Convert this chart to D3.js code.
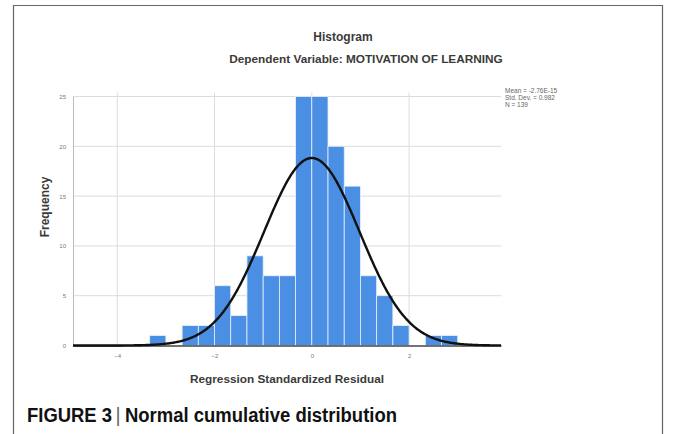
<!DOCTYPE html>
<html>
<head>
<meta charset="utf-8">
<script src="https://cdn.jsdelivr.net/npm/d3@7"></script>
<style>
  body { margin: 0; background: #fff; }
  svg { display: block; font-family: "Liberation Sans", Arial, sans-serif; }
</style>
</head>
<body>
<div id="chart"></div>
<script>
// Bins of width 1/3 on the standardized residual, counts
const binStarts = [-10, -9, -8, -7, -6, -5, -4, -3, -2, -1, 0, 1, 2, 3, 4, 5, 6, 7, 8];
const counts    = [1, 0, 2, 2, 6, 3, 9, 7, 7, 25, 25, 20, 16, 7, 5, 2, 0, 1, 1];
const binWidth = 1 / 3;
const xTicks = [-4, -2, 0, 2];
const yTicks = [0, 5, 10, 15, 20, 25];
const stats = { mean: 0, sd: 0.982, n: 139 };
const statLines = ["Mean = -2.76E-15", "Std. Dev. = 0.982", "N = 139"];

const W = 673, H = 434;
const svg = d3.select("#chart").append("svg")
    .attr("width", W).attr("height", H);

// outer frame (open at the bottom)
svg.append("path")
    .attr("d", `M13.5,${H} V5.5 H662.5 V${H}`)
    .attr("fill", "none")
    .attr("stroke", "#666")
    .attr("stroke-width", 1.2);

const x = d3.scaleLinear().domain([-4.91, 3.89]).range([73, 501]);
const y = d3.scaleLinear().domain([0, 25]).range([345.5, 96.5]);

// grid
svg.append("g").selectAll("line")
    .data(yTicks.filter(d => d > 0))
    .join("line")
    .attr("x1", x.range()[0]).attr("x2", x.range()[1])
    .attr("y1", d => y(d)).attr("y2", d => y(d))
    .attr("stroke", "#dcdcdc").attr("stroke-width", 1);

svg.append("g").selectAll("line")
    .data(xTicks)
    .join("line")
    .attr("x1", d => x(d)).attr("x2", d => x(d))
    .attr("y1", y(0)).attr("y2", y(25) - 4)
    .attr("stroke", "#dcdcdc").attr("stroke-width", 1);

// bars
const bins = binStarts.map((k, i) => ({ x0: k * binWidth, x1: (k + 1) * binWidth, count: counts[i] }))
    .filter(d => d.count > 0);

svg.append("g").selectAll("rect")
    .data(bins)
    .join("rect")
    .attr("x", d => x(d.x0))
    .attr("width", d => x(d.x1) - x(d.x0))
    .attr("y", d => y(d.count))
    .attr("height", d => y(0) - y(d.count))
    .attr("fill", "#4a8fe3")
    .attr("stroke", "#e8f0fb")
    .attr("stroke-width", 0.8);

// axes
const yAxis = svg.append("g")
    .attr("transform", `translate(${x.range()[0]},0)`)
    .call(d3.axisLeft(y).tickValues(yTicks).tickSize(0).tickPadding(7));
yAxis.select(".domain").attr("stroke", "#bbb");
yAxis.selectAll("text").attr("font-size", 6).attr("fill", "#777");

const xAxis = svg.append("g")
    .attr("transform", `translate(0,${y(0)})`)
    .call(d3.axisBottom(x).tickValues(xTicks).tickSize(0).tickPadding(8));
xAxis.select(".domain").attr("stroke", "#444").attr("stroke-width", 1.5);
xAxis.selectAll("text").attr("font-size", 6).attr("fill", "#777");

// normal curve
const pdf = v => Math.exp(-0.5 * ((v - stats.mean) / stats.sd) ** 2) / (stats.sd * Math.sqrt(2 * Math.PI));
const curvePts = d3.range(x.domain()[0], x.domain()[1] + 0.001, 0.02);
svg.append("path")
    .datum(curvePts)
    .attr("fill", "none")
    .attr("stroke", "#111")
    .attr("stroke-width", 2.4)
    .attr("d", d3.line().x(d => x(d)).y(d => y(stats.n * binWidth * pdf(d))));

// titles
svg.append("text")
    .attr("x", 343).attr("y", 41)
    .attr("text-anchor", "middle")
    .attr("font-size", 12).attr("font-weight", "bold").attr("fill", "#3a3a3a")
    .text("Histogram");

svg.append("text")
    .attr("x", 366).attr("y", 63)
    .attr("text-anchor", "middle")
    .attr("font-size", 11.8).attr("font-weight", "bold").attr("fill", "#3a3a3a")
    .text("Dependent Variable: MOTIVATION OF LEARNING");

svg.append("text")
    .attr("transform", "translate(49,207) rotate(-90)")
    .attr("text-anchor", "middle")
    .attr("font-size", 12).attr("font-weight", "bold").attr("fill", "#3a3a3a")
    .text("Frequency");

svg.append("text")
    .attr("x", 287).attr("y", 383)
    .attr("text-anchor", "middle")
    .attr("font-size", 11.8).attr("font-weight", "bold").attr("fill", "#3a3a3a")
    .text("Regression Standardized Residual");

// stats box
svg.append("g").selectAll("text")
    .data(statLines)
    .join("text")
    .attr("x", 505)
    .attr("y", (d, i) => 93 + i * 7)
    .attr("font-size", 6.5).attr("fill", "#666")
    .text(d => d);

// caption, three pieces
const capFont = "'Liberation Sans Narrow', 'Liberation Sans', Arial, sans-serif";
svg.append("text")
    .attr("x", 27).attr("y", 422)
    .attr("font-family", capFont)
    .attr("font-size", 19.5).attr("font-weight", "bold").attr("fill", "#111")
    .attr("textLength", 85).attr("lengthAdjust", "spacingAndGlyphs")
    .text("FIGURE 3");
svg.append("text")
    .attr("x", 118).attr("y", 422)
    .attr("text-anchor", "middle")
    .attr("font-family", capFont)
    .attr("font-size", 19.5).attr("fill", "#666")
    .text("|");
svg.append("text")
    .attr("x", 125).attr("y", 422)
    .attr("font-family", capFont)
    .attr("font-size", 19.5).attr("font-weight", "bold").attr("fill", "#111")
    .attr("textLength", 272).attr("lengthAdjust", "spacingAndGlyphs")
    .text("Normal cumulative distribution");
</script>
</body>
</html>
